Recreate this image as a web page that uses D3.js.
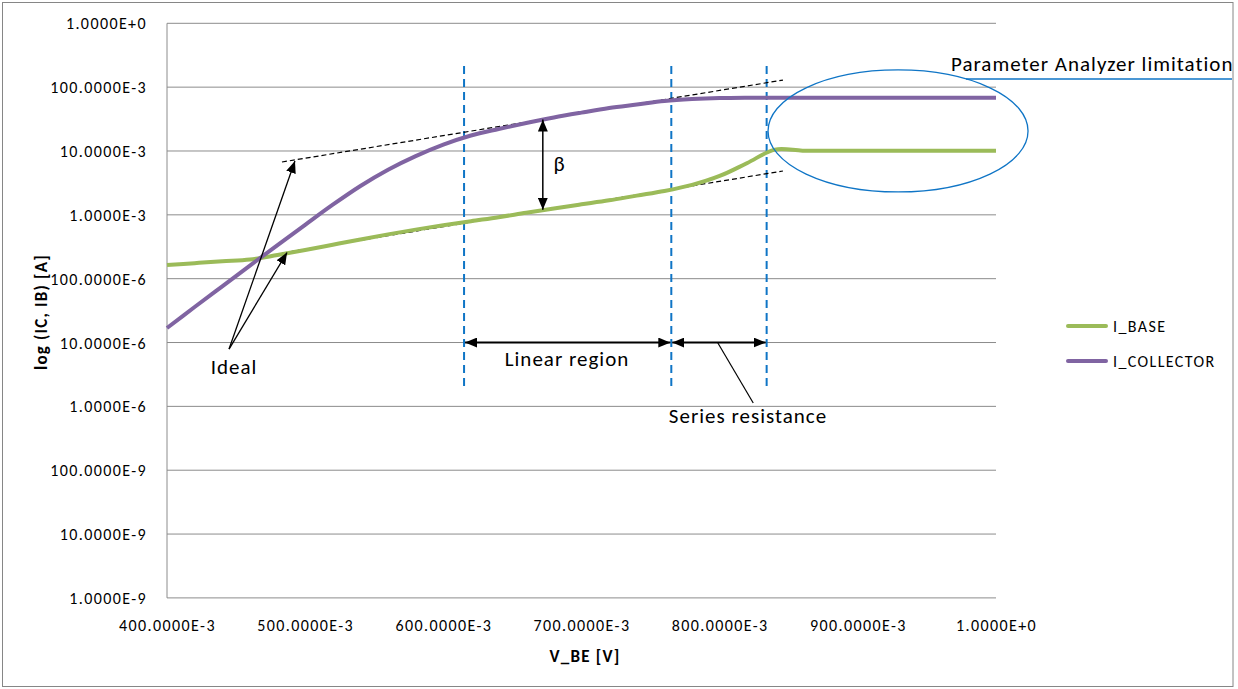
<!DOCTYPE html>
<html>
<head>
<meta charset="utf-8">
<script src="https://cdn.jsdelivr.net/npm/d3@7"></script>
<style>
  body { margin: 0; background: #fff; }
  text { font-family: Carlito, Calibri, Lato, sans-serif; fill: #000; }
</style>
</head>
<body>
<div id="chart"></div>
<script>
// V_BE sweep [V] and the two measured currents [A]
var vbe = [0.40, 0.42, 0.44, 0.46, 0.48, 0.50, 0.52, 0.54, 0.56, 0.58, 0.60,
           0.62, 0.64, 0.66, 0.68, 0.70, 0.72, 0.74, 0.76, 0.78, 0.80,
           0.82, 0.84, 0.86, 0.88, 0.90, 0.92, 0.94, 0.96, 0.98, 1.00];
var iBase = [1.64e-4, 1.75e-4, 1.87e-4, 1.99e-4, 2.35e-4, 2.81e-4, 3.40e-4, 4.11e-4, 4.94e-4, 5.87e-4, 6.86e-4,
             7.96e-4, 9.18e-4, 1.08e-3, 1.26e-3, 1.46e-3, 1.69e-3, 2.00e-3, 2.36e-3, 2.94e-3, 4.06e-3,
             6.49e-3, 1.05e-2, 1.01e-2, 1.01e-2, 1.01e-2, 1.01e-2, 1.01e-2, 1.01e-2, 1.01e-2, 1.01e-2];
var iCollector = [1.69e-5, 3.60e-5, 7.60e-5, 1.60e-4, 3.36e-4, 6.98e-4, 1.44e-3, 2.83e-3, 5.09e-3, 8.32e-3, 1.26e-2,
                  1.75e-2, 2.21e-2, 2.74e-2, 3.35e-2, 3.99e-2, 4.70e-2, 5.33e-2, 6.05e-2, 6.50e-2, 6.76e-2,
                  6.84e-2, 6.84e-2, 6.84e-2, 6.84e-2, 6.84e-2, 6.84e-2, 6.84e-2, 6.84e-2, 6.84e-2, 6.84e-2];

var xTicks = [0.4, 0.5, 0.6, 0.7, 0.8, 0.9, 1.0];
var xTickLabels = ["400.0000E-3", "500.0000E-3", "600.0000E-3", "700.0000E-3", "800.0000E-3", "900.0000E-3", "1.0000E+0"];
var yTicks = [1, 1e-1, 1e-2, 1e-3, 1e-4, 1e-5, 1e-6, 1e-7, 1e-8, 1e-9];
var yTickLabels = ["1.0000E+0", "100.0000E-3", "10.0000E-3", "1.0000E-3", "100.0000E-6", "10.0000E-6",
                   "1.0000E-6", "100.0000E-9", "10.0000E-9", "1.0000E-9"];

var seriesNames = ["I_BASE", "I_COLLECTOR"];
var seriesColors = ["#9bbb59", "#8064a2"];

// annotation anchors (data units)
var regionMarks = [0.615, 0.765, 0.834];
var idealLines = [
  {v0: 0.4832, i0: 6.72e-3, v1: 0.8458, i1: 1.29e-1},
  {v0: 0.4832, i0: 2.52e-4, v1: 0.8458, i1: 4.86e-3}
];
var idealArrows = [
  {v0: 0.4449, i0: 7.9e-6, v1: 0.4926, i1: 6.97e-3},
  {v0: 0.4449, i0: 7.9e-6, v1: 0.4869, i1: 2.57e-4}
];

var W = 1238, H = 689;
var pl = 167, pr = 996, pt = 23.3, pb = 597.9;

var svg = d3.select("#chart").append("svg")
  .attr("width", W)
  .attr("height", H);

var defs = svg.append("defs");
defs.append("marker")
  .attr("id", "ah")
  .attr("viewBox", "0 0 12 10")
  .attr("refX", 12).attr("refY", 5)
  .attr("markerWidth", 12).attr("markerHeight", 10)
  .attr("markerUnits", "userSpaceOnUse")
  .attr("orient", "auto-start-reverse")
  .append("path").attr("d", "M0,0L12,5L0,10Z").attr("fill", "#000");

// chart border
svg.append("rect")
  .attr("x", 2.5).attr("y", 2.5)
  .attr("width", 1230.5).attr("height", 684)
  .attr("fill", "#fff").attr("stroke", "#868686");

var x = d3.scaleLinear().domain([0.4, 1.0]).range([pl, pr]);
var y = d3.scaleLog().domain([1e-9, 1]).range([pb, pt]);

// gridlines
svg.append("g").selectAll("line").data(yTicks).enter().append("line")
  .attr("x1", pl).attr("x2", pr)
  .attr("y1", function(d) { return y(d); })
  .attr("y2", function(d) { return y(d); })
  .attr("stroke", "#8c8c8c").attr("stroke-width", 1);

svg.append("line")
  .attr("x1", pl).attr("x2", pl).attr("y1", pt).attr("y2", pb)
  .attr("stroke", "#8c8c8c").attr("stroke-width", 1);

var yAxis = d3.axisLeft(y).tickValues(yTicks).tickSize(0).tickPadding(0)
  .tickFormat(function(d, i) { return yTickLabels[i]; });
var gy = svg.append("g").attr("transform", "translate(" + (pl - 20) + ",0)").call(yAxis);
gy.select(".domain").remove();
gy.selectAll("text").style("font-size", "16px").style("letter-spacing", "1.4px").attr("dy", "0.35em");

var xAxis = d3.axisBottom(x).tickValues(xTicks).tickSize(0).tickPadding(0)
  .tickFormat(function(d, i) { return xTickLabels[i]; });
var gx = svg.append("g").attr("transform", "translate(0," + (pb + 27) + ")").call(xAxis);
gx.select(".domain").remove();
gx.selectAll("text").style("font-size", "16px").style("letter-spacing", "1.4px").attr("dy", "0.35em");

// axis titles
svg.append("text")
  .attr("transform", "translate(47,312) rotate(-90)")
  .attr("text-anchor", "middle")
  .style("font-size", "17px").style("font-weight", "bold").style("letter-spacing", "1.2px")
  .text("log (IC, IB) [A]");
svg.append("text")
  .attr("x", 585).attr("y", 662)
  .attr("text-anchor", "middle")
  .style("font-size", "17px").style("font-weight", "bold").style("letter-spacing", "1.2px")
  .text("V_BE [V]");

// region markers
svg.append("g").selectAll("line").data(regionMarks).enter().append("line")
  .attr("x1", function(d) { return x(d); }).attr("x2", function(d) { return x(d); })
  .attr("y1", 66).attr("y2", 386)
  .attr("stroke", "#0f75c6").attr("stroke-width", 2)
  .attr("stroke-dasharray", "8,5");

// ideal slopes
svg.append("g").selectAll("line").data(idealLines).enter().append("line")
  .attr("x1", function(d) { return x(d.v0); }).attr("y1", function(d) { return y(d.i0); })
  .attr("x2", function(d) { return x(d.v1); }).attr("y2", function(d) { return y(d.i1); })
  .attr("stroke", "#000").attr("stroke-width", 1.2)
  .attr("stroke-dasharray", "5,3");

// curves
var line = d3.line()
  .x(function(d) { return x(d[0]); })
  .y(function(d) { return y(d[1]); })
  .curve(d3.curveCatmullRom.alpha(0.5));

[iBase, iCollector].forEach(function(s, k) {
  svg.append("path")
    .datum(d3.zip(vbe, s))
    .attr("d", line)
    .attr("fill", "none")
    .attr("stroke", seriesColors[k])
    .attr("stroke-width", 4)
    .attr("stroke-linejoin", "round");
});

// ideal arrows
svg.append("g").selectAll("line").data(idealArrows).enter().append("line")
  .attr("x1", function(d) { return x(d.v0); }).attr("y1", function(d) { return y(d.i0); })
  .attr("x2", function(d) { return x(d.v1); }).attr("y2", function(d) { return y(d.i1); })
  .attr("stroke", "#000").attr("stroke-width", 1.3)
  .attr("marker-end", "url(#ah)");

svg.append("text")
  .attr("x", 234).attr("y", 374)
  .attr("text-anchor", "middle")
  .style("font-size", "21px").style("letter-spacing", "1px")
  .text("Ideal");

// beta arrow
svg.append("line")
  .attr("x1", x(0.672)).attr("x2", x(0.672))
  .attr("y1", y(3.1e-2)).attr("y2", y(1.2e-3))
  .attr("stroke", "#000").attr("stroke-width", 1.5)
  .attr("marker-start", "url(#ah)").attr("marker-end", "url(#ah)");
svg.append("text")
  .attr("x", 559).attr("y", 171)
  .attr("text-anchor", "middle")
  .style("font-size", "21px")
  .text("β");

// region arrows
var spans = [[regionMarks[0], regionMarks[1]], [regionMarks[1], regionMarks[2]]];
svg.append("g").selectAll("line").data(spans).enter().append("line")
  .attr("x1", function(d) { return x(d[0]) + 1; }).attr("x2", function(d) { return x(d[1]) - 1; })
  .attr("y1", y(1e-5)).attr("y2", y(1e-5))
  .attr("stroke", "#000").attr("stroke-width", 2)
  .attr("marker-start", "url(#ah)").attr("marker-end", "url(#ah)");

svg.append("text")
  .attr("x", 567).attr("y", 366)
  .attr("text-anchor", "middle")
  .style("font-size", "21px").style("letter-spacing", "1px")
  .text("Linear region");

svg.append("line")
  .attr("x1", x(0.7985)).attr("y1", y(1e-5))
  .attr("x2", x(0.8243)).attr("y2", 403)
  .attr("stroke", "#000").attr("stroke-width", 1.2);
svg.append("text")
  .attr("x", 748).attr("y", 423)
  .attr("text-anchor", "middle")
  .style("font-size", "21px").style("letter-spacing", "1px")
  .text("Series resistance");

// analyzer limitation callout
svg.append("ellipse")
  .attr("cx", x(0.9291)).attr("cy", y(0.0206))
  .attr("rx", 130).attr("ry", 61)
  .attr("fill", "none").attr("stroke", "#0f75c6").attr("stroke-width", 1.3);
svg.append("line")
  .attr("x1", 966).attr("x2", 1232).attr("y1", 79).attr("y2", 79)
  .attr("stroke", "#0f75c6").attr("stroke-width", 1.3);
svg.append("text")
  .attr("x", 951).attr("y", 71)
  .style("font-size", "21px").style("letter-spacing", "1px")
  .text("Parameter Analyzer limitation");

// legend
var lg = svg.append("g").selectAll("g").data(seriesNames).enter().append("g")
  .attr("transform", function(d, i) { return "translate(1068," + (326 + i * 35) + ")"; });
lg.append("line")
  .attr("x1", 0).attr("x2", 38)
  .attr("stroke", function(d, i) { return seriesColors[i]; })
  .attr("stroke-width", 4).attr("stroke-linecap", "round");
lg.append("text")
  .attr("x", 45).attr("y", 0).attr("dy", "0.35em")
  .style("font-size", "16px").style("letter-spacing", "1.4px")
  .text(function(d) { return d; });
</script>
</body>
</html>
